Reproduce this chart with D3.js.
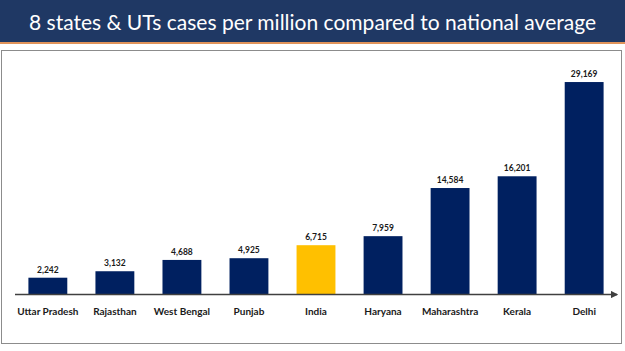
<!DOCTYPE html>
<html>
<head>
<meta charset="utf-8">
<script src="https://cdn.jsdelivr.net/npm/d3@7"></script>
<style>
  body { margin: 0; background: #fff; }
  svg { display: block; }
</style>
</head>
<body>
<div id="chart"></div>
<script>
// data
const states = ['Uttar Pradesh', 'Rajasthan', 'West Bengal', 'Punjab', 'India', 'Haryana', 'Maharashtra', 'Kerala', 'Delhi'];
const casesPerMillion = [2242, 3132, 4688, 4925, 6715, 7959, 14584, 16201, 29169];
const highlight = 'India';
const titleText = '8 states & UTs cases per million compared to national average';

const width = 625, height = 351;
const baseY = 294;
const navy = '#002060', gold = '#ffc000';

const svg = d3.select('#chart').append('svg')
    .attr('width', width).attr('height', height);

// title banner
svg.append('rect').attr('x', 0).attr('y', 0).attr('width', width).attr('height', 42).attr('fill', '#1f3864');
svg.append('rect').attr('x', 0).attr('y', 42).attr('width', width).attr('height', 2).attr('fill', '#e0935a');
const title = svg.append('text')
    .attr('x', width / 2).attr('y', 30)
    .attr('text-anchor', 'middle')
    .style('font-family', 'Lato, "Open Sans", sans-serif')
    .style('font-size', '24px')
    .attr('fill', '#fff')
    .text(titleText);
// fit title to width seen in the original
const tw = title.node().getComputedTextLength();
title.style('font-size', (24 * 567 / tw) + 'px');

// chart frame
svg.append('rect').attr('x', 1.5).attr('y', 50.5).attr('width', 620).attr('height', 293)
    .attr('fill', 'none').attr('stroke', '#8c8c8c').attr('stroke-width', 1);

// scales
const x = d3.scaleBand(states, [15, 617]).paddingInner(0.42).paddingOuter(0.2);
const y = d3.scaleLinear([0, 30000], [baseY, 76]);

// bars
svg.append('g').selectAll('rect')
    .data(states)
    .join('rect')
    .attr('x', d => x(d))
    .attr('width', x.bandwidth())
    .attr('y', (d, i) => y(casesPerMillion[i]))
    .attr('height', (d, i) => y(0) - y(casesPerMillion[i]))
    .attr('fill', d => d === highlight ? gold : navy);

// value labels
svg.append('g').selectAll('text')
    .data(states)
    .join('text')
    .attr('x', d => x(d) + x.bandwidth() / 2)
    .attr('y', (d, i) => y(casesPerMillion[i]) - 5)
    .attr('text-anchor', 'middle')
    .style('font-family', 'Lato, sans-serif')
    .style('font-weight', 'bold')
    .style('font-size', '8.5px')
    .attr('fill', '#1a1a1a')
    .text((d, i) => d3.format(',')(casesPerMillion[i]));

// x axis with arrow
const defs = svg.append('defs');
defs.append('marker').attr('id', 'arrow')
    .attr('viewBox', '0 0 6 6').attr('refX', 5).attr('refY', 3)
    .attr('markerWidth', 5).attr('markerHeight', 5).attr('orient', 'auto')
    .append('path').attr('d', 'M0,0L6,3L0,6Z').attr('fill', '#404040');

const axis = svg.append('g').attr('transform', `translate(0,${baseY})`)
    .call(d3.axisBottom(x).tickSize(0).tickPadding(14));
axis.select('.domain').attr('d', `M15,0.5H617`).attr('stroke', '#404040').attr('stroke-width', 1.5)
    .attr('marker-end', 'url(#arrow)');
axis.selectAll('text')
    .style('font-family', 'Lato, sans-serif')
    .style('font-weight', 'bold')
    .style('font-size', '10px')
    .attr('fill', '#1a1a1a');
</script>
</body>
</html>
